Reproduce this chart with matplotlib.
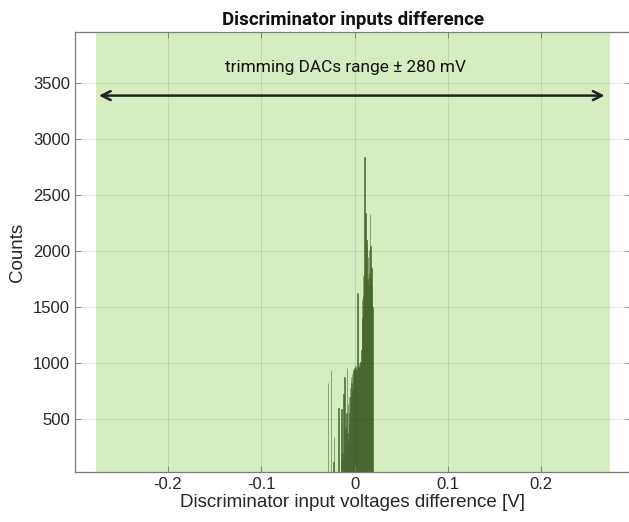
import matplotlib.pyplot as plt
import numpy as np

plt.rcParams['font.family'] = ['Liberation Sans', 'DejaVu Sans']

# histogram counts, 0.5 mV bins starting at -29.5 mV
bin_start = -0.0295
bin_width = 0.0005
counts = [
    0, 827, 0, 0, 0, 0, 0, 0, 940, 0,
    0, 0, 0, 120, 345, 0, 0, 0, 0, 0,
    0, 0, 0, 0, 605, 0, 0, 0, 0, 150,
    595, 0, 0, 200, 120, 725, 300, 880, 180, 420,
    250, 560, 960, 380, 640, 300, 465, 700, 560, 780,
    700, 880, 820, 900, 760, 870, 940, 900, 960, 985,
    930, 960, 980, 940, 970, 1630, 950, 970, 1000, 960,
    1010, 1015, 1000, 1120, 1575, 1400, 1550, 1775, 1600, 1800,
    2845, 2000, 2345, 1900, 2100, 2040, 1750, 1950, 1700, 2010,
    1800, 2330, 1900, 2045, 1750, 1850, 1700, 1500, 0,
]

dac_range = (-0.277, 0.274)
arrow_y = 3390
x_ticks = [-0.2, -0.1, 0, 0.1, 0.2]
y_ticks = [500, 1000, 1500, 2000, 2500, 3000, 3500]

edges = bin_start + bin_width * np.arange(len(counts) + 1)

fig = plt.figure(figsize=(6.29, 5.22), dpi=100)
ax = fig.add_axes([74.7 / 629, 1 - 471.7 / 522, (631 - 74.7) / 629, (471.7 - 32.3) / 522])

ax.axvspan(dac_range[0], dac_range[1], color='#d5edbf', lw=0, zorder=0)
ax.bar(edges[:-1], counts, width=bin_width, align='edge', color='#3e5a27',
       edgecolor='#4a6a30', lw=0.4, zorder=2)

ax.annotate('', xy=(dac_range[0] + 0.003, arrow_y), xytext=(dac_range[1] - 0.006, arrow_y),
            arrowprops=dict(arrowstyle='<->', color='#222222', lw=1.8, mutation_scale=16,
                            shrinkA=0, shrinkB=0), zorder=3)
ax.text(-0.01, 3640, 'trimming DACs range ± 280 mV', ha='center', va='center',
        fontsize=12.4, family='Roboto', color='#111111')

ax.set_xlim(-0.3, 0.2963)
ax.set_ylim(32, 3955)
ax.set_xticks(x_ticks)
ax.set_xticklabels(['-0.2', '-0.1', '0', '0.1', '0.2'])
ax.set_yticks(y_ticks)

ax.grid(True, color='#262626', alpha=0.13, lw=0.6, zorder=1)
ax.set_axisbelow(False)
for s in ax.spines.values():
    s.set_color('#7a7a7a')
    s.set_linewidth(0.9)
ax.tick_params(direction='in', length=4, width=0.6, color='#7a7a7a',
               labelsize=12, labelcolor='#262626', top=True, right=True)

ax.set_xlabel('Discriminator input voltages difference [V]', fontsize=13.5,
              color='#262626', labelpad=2)
ax.set_ylabel('Counts', fontsize=13.5, color='#262626', labelpad=5)
ax.set_title('Discriminator inputs difference', fontsize=13.5, family='Roboto',
             fontweight='bold', color='#111111', pad=5)

fig.savefig('out.png', dpi=100)
